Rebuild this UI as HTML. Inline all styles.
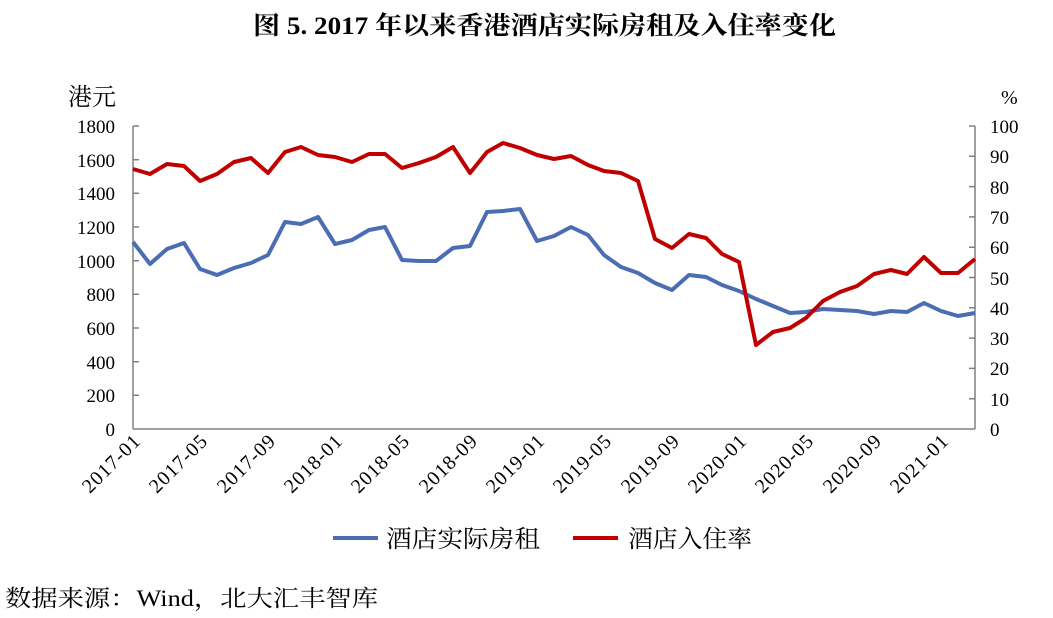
<!DOCTYPE html>
<html><head><meta charset="utf-8"><style>
body{margin:0;background:#fff;}
svg text{font-family:"Liberation Serif","Noto Serif CJK SC",serif;fill:#000;}
</style></head><body>
<svg width="1053" height="613" xmlns="http://www.w3.org/2000/svg">
<text x="253" y="34" font-size="25" font-weight="bold" textLength="583" lengthAdjust="spacingAndGlyphs">图 5. 2017 年以来香港酒店实际房租及入住率变化</text>
<text x="68" y="105" font-size="24">港元</text>
<text x="1001" y="104" font-size="20">%</text>
<g stroke="#808080" stroke-width="1.5" fill="none">
<line x1="133" y1="126" x2="133" y2="429"/>
<line x1="975" y1="126" x2="975" y2="429"/>
<line x1="133" y1="429" x2="975" y2="429"/>
<path d="M133 126h6M133 159.7h6M133 193.3h6M133 227h6M133 260.7h6M133 294.3h6M133 328h6M133 361.7h6M133 395.3h6"/>
<path d="M975 126h-6M975 156.3h-6M975 186.6h-6M975 216.9h-6M975 247.2h-6M975 277.5h-6M975 307.8h-6M975 338.1h-6M975 368.4h-6M975 398.7h-6"/>
</g>
<g font-size="19" text-anchor="end">
<text x="115" y="133">1800</text><text x="115" y="167">1600</text><text x="115" y="200">1400</text><text x="115" y="234">1200</text><text x="115" y="268">1000</text><text x="115" y="301">800</text><text x="115" y="335">600</text><text x="115" y="369">400</text><text x="115" y="402">200</text><text x="115" y="436">0</text>
</g>
<g font-size="19">
<text x="990" y="133">100</text><text x="990" y="163">90</text><text x="990" y="194">80</text><text x="990" y="224">70</text><text x="990" y="254">60</text><text x="990" y="285">50</text><text x="990" y="315">40</text><text x="990" y="345">30</text><text x="990" y="375">20</text><text x="990" y="406">10</text><text x="990" y="436">0</text>
</g>
<g font-size="20" text-anchor="end" letter-spacing="1">
<text transform="translate(142,442) rotate(-45)">2017-01</text>
<text transform="translate(209,442) rotate(-45)">2017-05</text>
<text transform="translate(277,442) rotate(-45)">2017-09</text>
<text transform="translate(344,442) rotate(-45)">2018-01</text>
<text transform="translate(411,442) rotate(-45)">2018-05</text>
<text transform="translate(479,442) rotate(-45)">2018-09</text>
<text transform="translate(546,442) rotate(-45)">2019-01</text>
<text transform="translate(613,442) rotate(-45)">2019-05</text>
<text transform="translate(681,442) rotate(-45)">2019-09</text>
<text transform="translate(748,442) rotate(-45)">2020-01</text>
<text transform="translate(815,442) rotate(-45)">2020-05</text>
<text transform="translate(883,442) rotate(-45)">2020-09</text>
<text transform="translate(950,442) rotate(-45)">2021-01</text>
</g>
<polyline fill="none" stroke="#4a6db3" stroke-width="4" stroke-linejoin="round" points="133,242 150,264 167,249 184,243 200,269 217,275 234,268 251,263 268,255 285,222 301,224 318,217 335,244 352,240 369,230 385,227 402,260 419,261 436,261 453,248 470,246 487,212 503,211 520,209 537,241 554,236 571,227 588,235 604,255 621,267 638,273 655,283 672,290 689,275 706,277 722,285 739,291 756,299 773,306 790,313 806,312 823,309 840,310 857,311 874,314 891,311 907,312 924,303 941,311 958,316 975,313"/>
<polyline fill="none" stroke="#c00000" stroke-width="4" stroke-linejoin="round" points="133,169 150,174 167,164 184,166 200,181 217,174 234,162 251,158 268,173 285,152 301,147 318,155 335,157 352,162 369,154 385,154 402,168 419,163 436,157 453,147 470,173 487,152 503,143 520,148 537,155 554,159 571,156 588,165 604,171 621,173 638,181 655,239 672,248 689,234 706,238 722,254 739,262 756,345 773,332 790,328 806,318 823,301 840,292 857,286 874,274 891,270 907,274 924,257 941,273 958,273 975,259"/>
<line x1="333" y1="538" x2="378" y2="538" stroke="#4a6db3" stroke-width="4"/>
<text x="386" y="547" font-size="24" textLength="154" lengthAdjust="spacingAndGlyphs">酒店实际房租</text>
<line x1="573" y1="538" x2="618" y2="538" stroke="#c00000" stroke-width="4"/>
<text x="628" y="547" font-size="24" textLength="124" lengthAdjust="spacingAndGlyphs">酒店入住率</text>
<text x="5" y="606" font-size="23" textLength="373" lengthAdjust="spacingAndGlyphs">数据来源：Wind，北大汇丰智库</text>
</svg>
</body></html>
